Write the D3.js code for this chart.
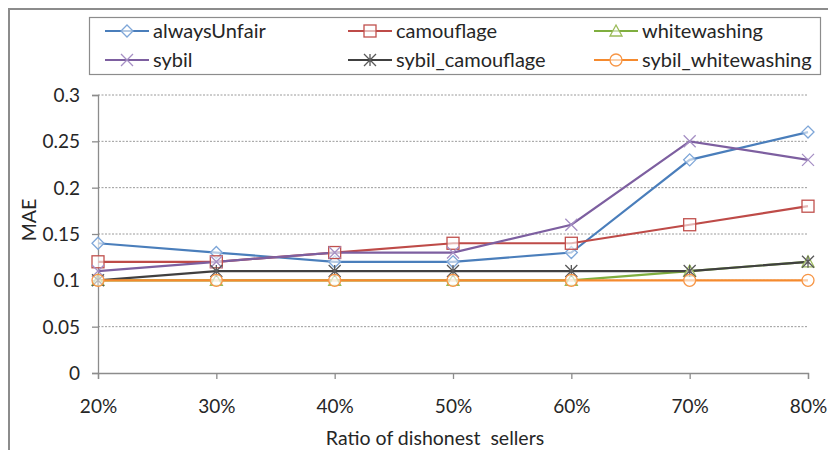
<!DOCTYPE html>
<html>
<head>
<meta charset="utf-8">
<script src="https://cdn.jsdelivr.net/npm/d3@7"></script>
<style>
  html, body { margin: 0; padding: 0; background: #fff; }
  svg { display: block; font-family: Lato, "Open Sans", sans-serif; }
</style>
</head>
<body>
<div id="chart"></div>
<script>
(function () {
  "use strict";

  var categories = ["20%", "30%", "40%", "50%", "60%", "70%", "80%"];
  var seriesNames = ["alwaysUnfair", "camouflage", "whitewashing", "sybil", "sybil_camouflage", "sybil_whitewashing"];
  var alwaysUnfair = [0.14, 0.13, 0.12, 0.12, 0.13, 0.23, 0.26];
  var camouflage = [0.12, 0.12, 0.13, 0.14, 0.14, 0.16, 0.18];
  var whitewashing = [0.10, 0.10, 0.10, 0.10, 0.10, 0.11, 0.12];
  var sybil = [0.11, 0.12, 0.13, 0.13, 0.16, 0.25, 0.23];
  var sybilCamouflage = [0.10, 0.11, 0.11, 0.11, 0.11, 0.11, 0.12];
  var sybilWhitewashing = [0.10, 0.10, 0.10, 0.10, 0.10, 0.10, 0.10];
  var yTicks = [0, 0.05, 0.1, 0.15, 0.2, 0.25, 0.3];

  var W = 828, H = 450;
  var margin = { left: 98, right: 20, top: 95, bottom: 77 };

  var series = [
    { name: seriesNames[0], values: alwaysUnfair, color: "#4a7ebb", mark: "#7ea6d8", shape: "diamond" },
    { name: seriesNames[1], values: camouflage, color: "#be4b48", mark: "#c0504d", shape: "square" },
    { name: seriesNames[2], values: whitewashing, color: "#7fae3f", mark: "#9bbb59", shape: "triangle" },
    { name: seriesNames[3], values: sybil, color: "#7d5fa0", mark: "#a58fc4", shape: "x" },
    { name: seriesNames[4], values: sybilCamouflage, color: "#404040", mark: "#595959", shape: "star" },
    { name: seriesNames[5], values: sybilWhitewashing, color: "#f58a2e", mark: "#f79646", shape: "circle" }
  ];

  var svg = d3.select("#chart").append("svg").attr("width", W).attr("height", H);

  // outer chart frame
  svg.append("rect").attr("x", 9).attr("y", 9).attr("width", W + 20).attr("height", H + 20)
    .attr("fill", "#fff").attr("stroke", "#8c8c8c").attr("stroke-width", 2);

  var x = d3.scalePoint().domain(categories).range([margin.left, W - margin.right]);
  var y = d3.scaleLinear().domain([0, 0.3]).range([H - margin.bottom, margin.top]);

  // gridlines
  svg.append("g").selectAll("line").data(yTicks.filter(function (d) { return d > 0; })).join("line")
    .attr("x1", margin.left).attr("x2", W - margin.right)
    .attr("y1", function (d) { return y(d); }).attr("y2", function (d) { return y(d); })
    .attr("stroke", "#9a9a9a").attr("stroke-width", 1).attr("stroke-dasharray", "2,1.5");

  var yAxis = svg.append("g").attr("transform", "translate(" + margin.left + ",0)")
    .call(d3.axisLeft(y).tickValues(yTicks).tickSize(6).tickPadding(12)
      .tickFormat(function (d) { return d === 0 ? "0" : String(d); }));
  var xAxis = svg.append("g").attr("transform", "translate(0," + (H - margin.bottom) + ")")
    .call(d3.axisBottom(x).tickSize(6).tickPadding(21));
  [yAxis, xAxis].forEach(function (a) {
    a.select(".domain").attr("stroke", "#8c8c8c").attr("stroke-width", 1.3);
    a.selectAll(".tick line").attr("stroke", "#8c8c8c").attr("stroke-width", 1.3);
    a.selectAll("text").attr("fill", "#262626").style("font-size", "19px").style("font-family", "Lato, sans-serif");
  });
  yAxis.selectAll("text").attr("dy", "0.35em");

  svg.append("text").attr("x", 435).attr("y", 445)
    .attr("text-anchor", "middle").attr("fill", "#262626").style("font-size", "19.5px")
    .attr("xml:space", "preserve").text("Ratio of dishonest  sellers");
  svg.append("text").attr("transform", "translate(36,220) rotate(-90)")
    .attr("text-anchor", "middle").attr("fill", "#262626").style("font-size", "19.5px").text("MAE");

  function drawMarker(g, shape, color) {
    var s = 6;
    if (shape === "diamond") {
      g.append("path").attr("d", "M0,-" + s + "L" + s + ",0L0," + s + "L-" + s + ",0Z");
    } else if (shape === "square") {
      g.append("rect").attr("x", -s).attr("y", -s).attr("width", 2 * s).attr("height", 2 * s);
    } else if (shape === "triangle") {
      g.append("path").attr("d", "M0,-" + s + "L" + s + "," + (s - 1) + "L-" + s + "," + (s - 1) + "Z");
    } else if (shape === "x") {
      g.append("path").attr("d", "M-" + s + ",-" + s + "L" + s + "," + s + "M" + s + ",-" + s + "L-" + s + "," + s);
    } else if (shape === "star") {
      g.append("path").attr("d", "M-" + s + ",-" + s + "L" + s + "," + s + "M" + s + ",-" + s + "L-" + s + "," + s + "M0,-" + s + "L0," + s);
    } else {
      g.append("circle").attr("r", s);
    }
    g.selectAll("*").attr("fill", "#fff").attr("fill-opacity", shape === "x" || shape === "star" ? 0 : 0.6)
      .attr("stroke", color).attr("stroke-width", 1.3);
  }

  var line = d3.line().x(function (d, i) { return x(categories[i]); }).y(function (d) { return y(d); });

  series.forEach(function (s) {
    svg.append("path").datum(s.values).attr("d", line).attr("fill", "none")
      .attr("stroke", s.color).attr("stroke-width", 2.2);
  });
  series.forEach(function (s) {
    s.values.forEach(function (v, i) {
      var g = svg.append("g").attr("transform", "translate(" + x(categories[i]) + "," + y(v) + ")");
      drawMarker(g, s.shape, s.mark);
    });
  });

  // legend
  svg.append("rect").attr("x", 89.5).attr("y", 17.5).attr("width", 731).attr("height", 57)
    .attr("fill", "#fff").attr("stroke", "#8c8c8c").attr("stroke-width", 1.2);
  var colX = [105, 348, 594];
  var rowY = [31, 60];
  series.forEach(function (s, i) {
    var lx = colX[i % 3], ly = rowY[Math.floor(i / 3)];
    var g = svg.append("g");
    g.append("line").attr("x1", lx).attr("x2", lx + 44).attr("y1", ly).attr("y2", ly)
      .attr("stroke", s.color).attr("stroke-width", 2.2);
    drawMarker(g.append("g").attr("transform", "translate(" + (lx + 22) + "," + ly + ")"), s.shape, s.mark);
    g.append("text").attr("x", lx + 48).attr("y", ly).attr("dy", "0.35em")
      .attr("fill", "#262626").style("font-size", "20px").text(s.name);
  });
})();
</script>
</body>
</html>
